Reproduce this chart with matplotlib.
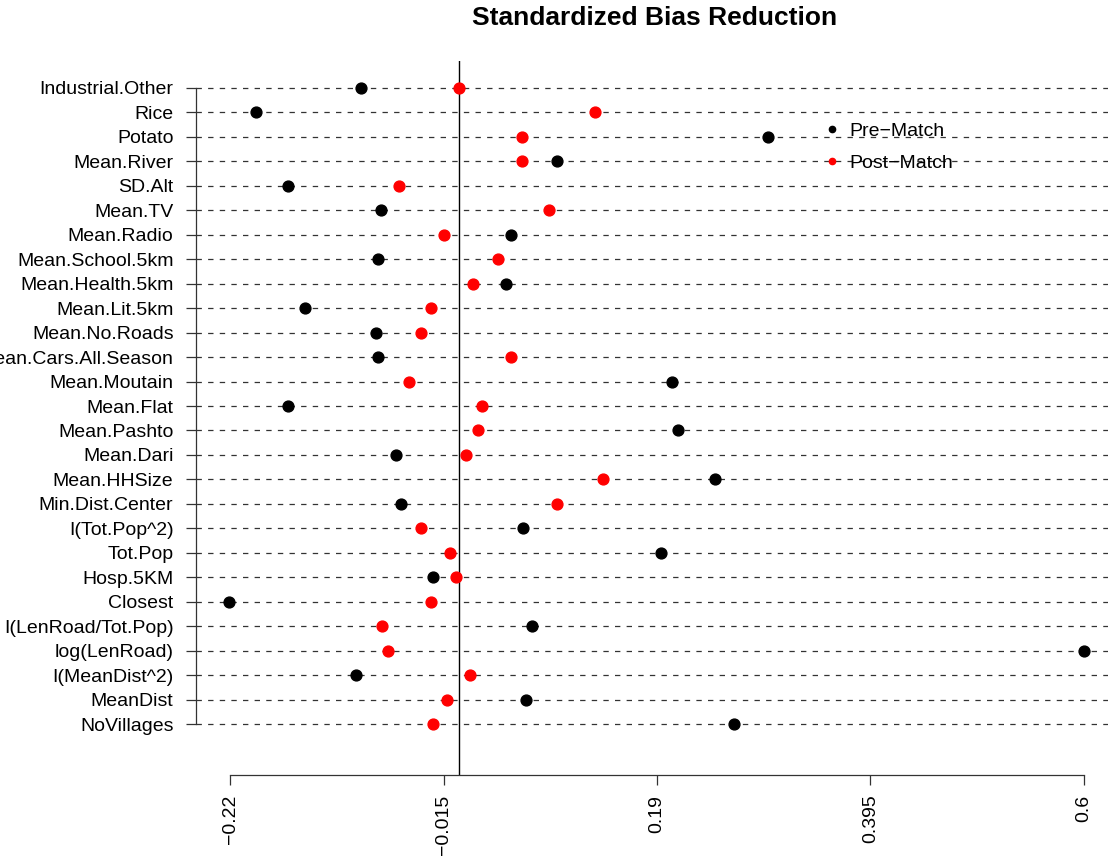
import matplotlib
matplotlib.use("Agg")
import matplotlib.pyplot as plt
from matplotlib.lines import Line2D

plt.rcParams['font.family'] = ['Liberation Sans', 'DejaVu Sans']

# -----------------------------
# Data (top row first)
# -----------------------------
variables = ["Industrial.Other", "Rice", "Potato", "Mean.River", "SD.Alt",
             "Mean.TV", "Mean.Radio", "Mean.School.5km", "Mean.Health.5km",
             "Mean.Lit.5km", "Mean.No.Roads", "Mean.Cars.All.Season",
             "Mean.Moutain", "Mean.Flat", "Mean.Pashto", "Mean.Dari",
             "Mean.HHSize", "Min.Dist.Center", "I(Tot.Pop^2)", "Tot.Pop",
             "Hosp.5KM", "Closest", "I(LenRoad/Tot.Pop)", "log(LenRoad)",
             "I(MeanDist^2)", "MeanDist", "NoVillages"]

pre_match = [-0.094, -0.195, 0.297, 0.094, -0.164,
             -0.075, 0.0495, -0.078, 0.045,
             -0.148, -0.080, -0.078,
             0.2045, -0.164, 0.210, -0.061,
             0.246, -0.056, 0.061, 0.194,
             -0.025, -0.221, 0.070, 0.600,
             -0.099, 0.064, 0.264]

post_match = [0.000, 0.130, 0.060, 0.060, -0.058,
              0.086, -0.015, 0.037, 0.013,
              -0.0275, -0.037, 0.050,
              -0.048, 0.0216, 0.018, 0.007,
              0.138, 0.094, -0.037, -0.009,
              -0.0034, -0.0275, -0.074, -0.068,
              0.010, -0.012, -0.025]

x_ticks = [-0.22, -0.015, 0.19, 0.395, 0.6]
x_tick_labels = ["\u22120.22", "\u22120.015", "0.19", "0.395", "0.6"]

# -----------------------------
# Figure
# -----------------------------
W, H = 1108, 859
fig = plt.figure(figsize=(W / 100, H / 100), dpi=100)
ax = fig.add_axes([196 / W, 1 - 775 / H, (1118 - 196) / W, (775 - 61) / H])

n = len(variables)
ypos = list(range(n, 0, -1))

# dashed guide lines per row
for y in ypos:
    ax.axhline(y, color="#333333", lw=0.9, ls=(0, (4.3, 5.0)), zorder=1)

ax.axvline(0, color="black", lw=1.0, zorder=2)

ax.plot(pre_match, ypos, "o", color="black", ms=7.8, zorder=3, ls="none")
ax.plot(post_match, ypos, "o", color="red", ms=7.8, zorder=3, ls="none")

ax.set_xlim(-0.2528, 0.6328)
ax.set_ylim(-1.08, 28.1)

ax.set_yticks(ypos)
ax.set_yticklabels(variables, fontsize=14)
ax.set_xticks(x_ticks)
ax.set_xticklabels(x_tick_labels, fontsize=14, rotation=90)

ax.tick_params(axis="both", length=7.2, width=0.9, color="#333333")
ax.tick_params(axis="y", pad=9)
ax.tick_params(axis="x", pad=7)

for s in ["top", "right"]:
    ax.spines[s].set_visible(False)
ax.spines["left"].set_bounds(1, n)
ax.spines["bottom"].set_bounds(x_ticks[0], x_ticks[-1])
for s in ["left", "bottom"]:
    ax.spines[s].set_linewidth(0.9)
    ax.spines[s].set_color("#333333")

# legend
handles = [Line2D([], [], marker="o", color="black", ls="none", ms=4.5),
           Line2D([], [], marker="o", color="red", ls="none", ms=4.5)]
leg = ax.legend(handles, ["Pre\u2212Match", "Post\u2212Match"], frameon=False,
                fontsize=14, loc="upper left",
                bbox_to_anchor=(826 / W, 1 - 122 / H),
                bbox_transform=fig.transFigure,
                handlelength=0.6, handletextpad=0.58, labelspacing=0.74,
                borderpad=0, borderaxespad=0)

fig.text(655 / W, 1 - 18 / H, "Standardized Bias Reduction",
         ha="center", va="center", fontsize=19, fontweight="bold")

fig.savefig("out.png", dpi=100)
